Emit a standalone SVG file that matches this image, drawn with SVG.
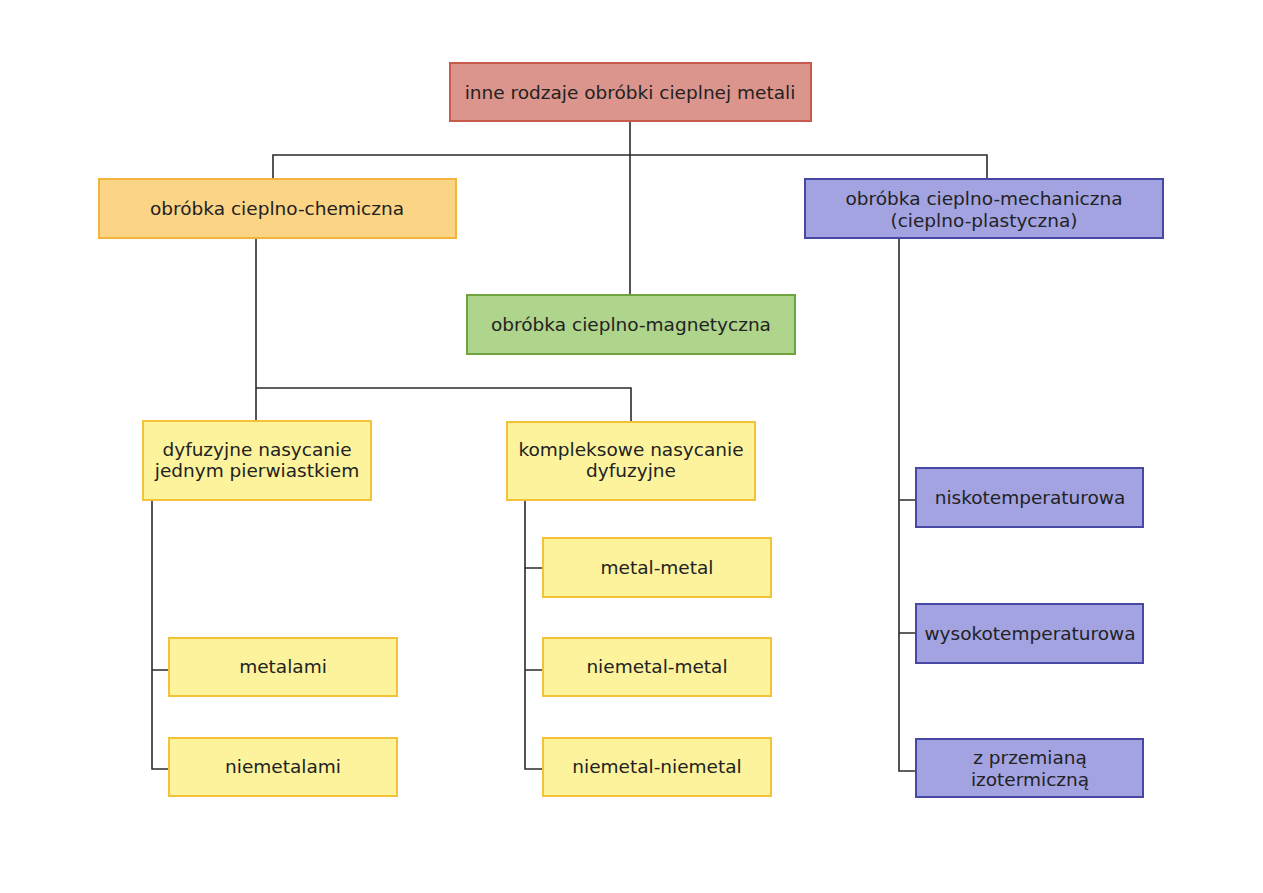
<svg xmlns="http://www.w3.org/2000/svg" width="1263" height="893" viewBox="0 0 1263 893">
<style>
text{font-family:"DejaVu Sans","Liberation Sans",sans-serif;font-size:18.5px;fill:#222;text-anchor:middle}
.c{fill:none;stroke:#2b2b2b;stroke-width:1.6}
.red{fill:#dc958c;stroke:#c75a4c;stroke-width:2}
.org{fill:#fcd485;stroke:#f2b43c;stroke-width:2}
.blu{fill:#a3a3e2;stroke:#4747a6;stroke-width:2}
.grn{fill:#afd48b;stroke:#6ea340;stroke-width:2}
.yel{fill:#fcf39c;stroke:#f3c236;stroke-width:2}
</style>
<rect width="1263" height="893" fill="#fff"/>
<g id="connectors">
<path class="c" d="M630 121V295M273 179V155H987V179"/>
<path class="c" d="M256 238V388H631V422M256 388V421"/>
<path class="c" d="M152 500V769H169M152 670H169"/>
<path class="c" d="M525 500V769H543M525 670H543M525 568H543"/>
<path class="c" d="M899 238V771H916M899 500H916M899 633H916"/>
</g>
<g id="root"><rect class="red" x="450" y="63" width="361" height="58"/><text x="630" y="99">inne rodzaje obróbki cieplnej metali</text></g>
<g id="chem"><rect class="org" x="99" y="179" width="357" height="59"/><text x="277" y="215">obróbka cieplno-chemiczna</text></g>
<g id="mech"><rect class="blu" x="805" y="179" width="358" height="59"/><text x="984" y="205">obróbka cieplno-mechaniczna</text><text x="984" y="227">(cieplno-plastyczna)</text></g>
<g id="magn"><rect class="grn" x="467" y="295" width="328" height="59"/><text x="631" y="331">obróbka cieplno-magnetyczna</text></g>
<g id="dyf"><rect class="yel" x="143" y="421" width="228" height="79"/><text x="257" y="456">dyfuzyjne nasycanie</text><text x="257" y="477">jednym pierwiastkiem</text></g>
<g id="komp"><rect class="yel" x="507" y="422" width="248" height="78"/><text x="631" y="456">kompleksowe nasycanie</text><text x="631" y="477">dyfuzyjne</text></g>
<g id="metalami"><rect class="yel" x="169" y="638" width="228" height="58"/><text x="283" y="673">metalami</text></g>
<g id="niemetalami"><rect class="yel" x="169" y="738" width="228" height="58"/><text x="283" y="773">niemetalami</text></g>
<g id="mm"><rect class="yel" x="543" y="538" width="228" height="59"/><text x="657" y="574">metal-metal</text></g>
<g id="nm"><rect class="yel" x="543" y="638" width="228" height="58"/><text x="657" y="673">niemetal-metal</text></g>
<g id="nn"><rect class="yel" x="543" y="738" width="228" height="58"/><text x="657" y="773">niemetal-niemetal</text></g>
<g id="nisko"><rect class="blu" x="916" y="468" width="227" height="59"/><text x="1030" y="504">niskotemperaturowa</text></g>
<g id="wysoko"><rect class="blu" x="916" y="604" width="227" height="59"/><text x="1030" y="640">wysokotemperaturowa</text></g>
<g id="izo"><rect class="blu" x="916" y="739" width="227" height="58"/><text x="1030" y="764">z przemianą</text><text x="1030" y="786">izotermiczną</text></g>
</svg>
